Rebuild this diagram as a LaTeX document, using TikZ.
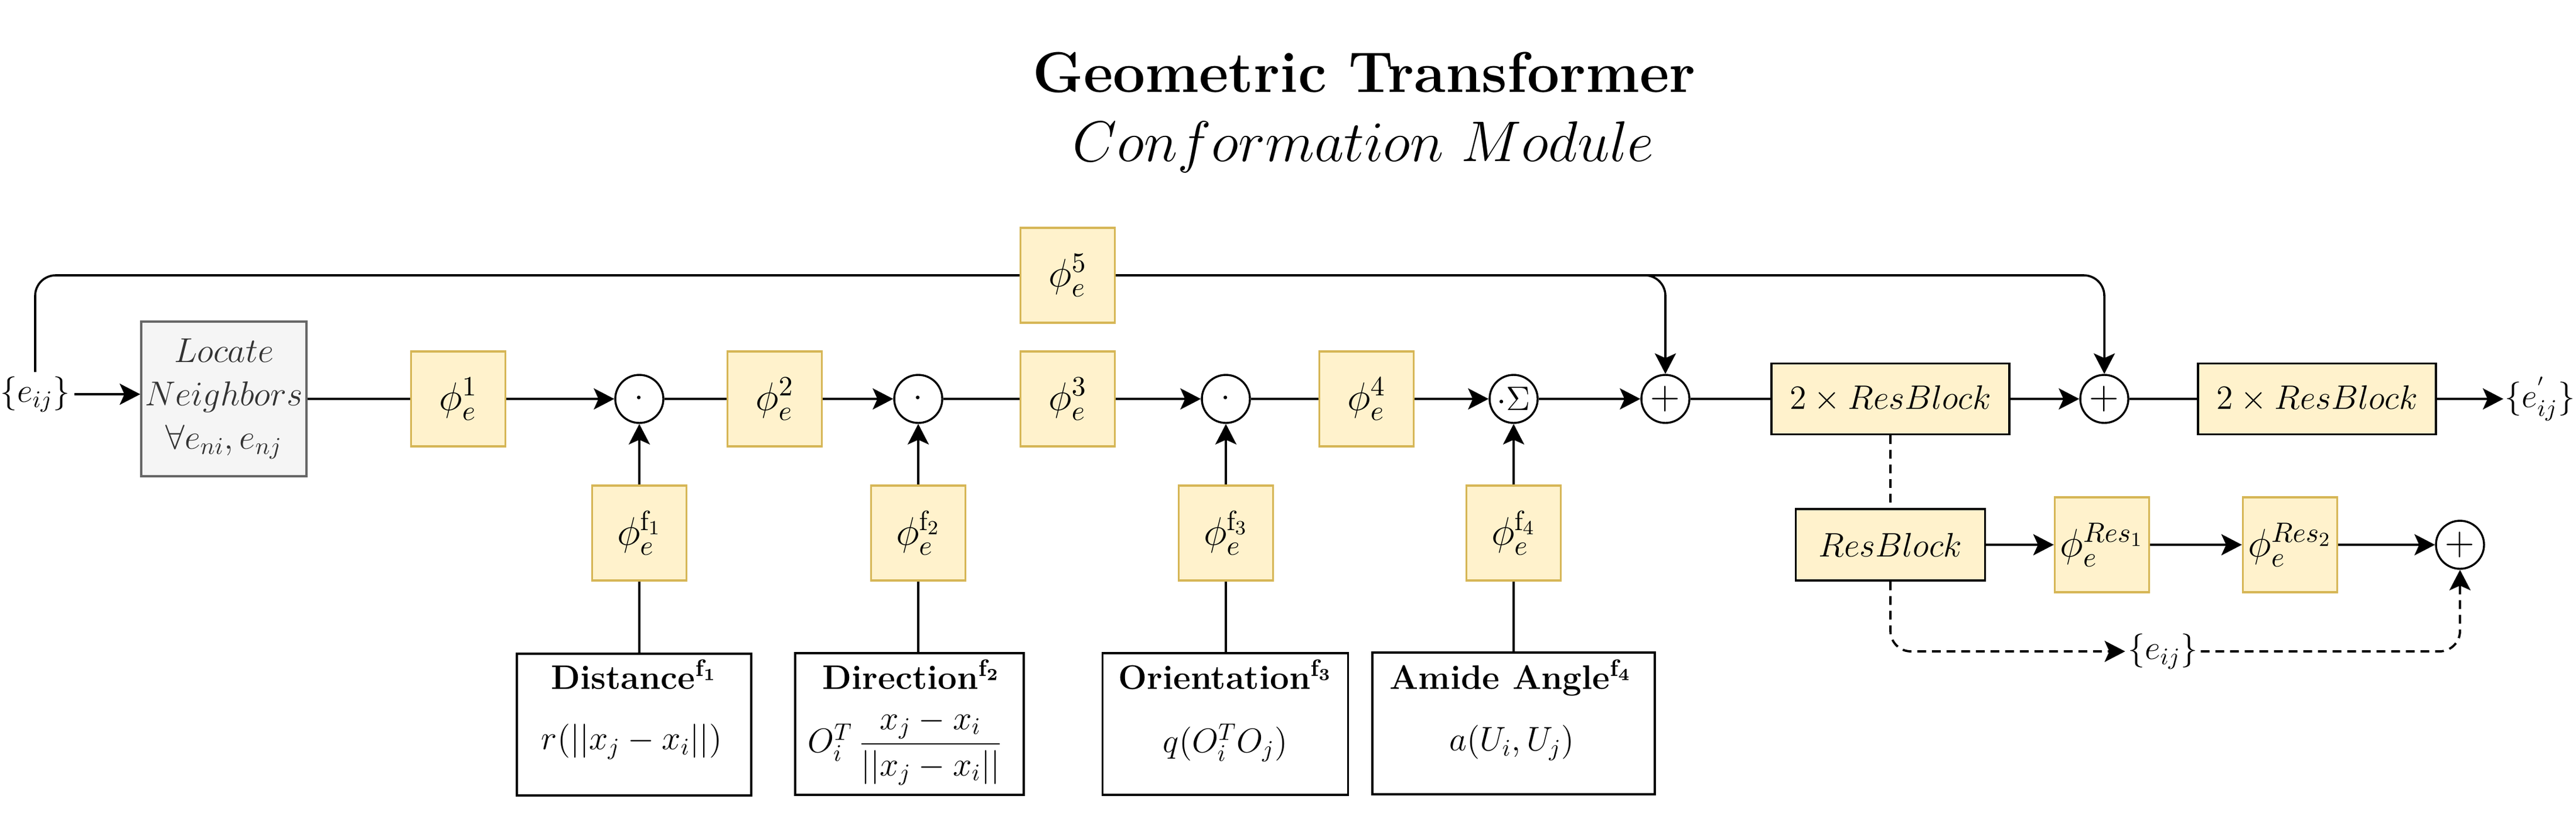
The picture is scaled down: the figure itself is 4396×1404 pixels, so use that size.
\RequirePackage{fix-cm}
\documentclass[tikz,border=0pt]{standalone}
\usepackage{amsmath}
\usetikzlibrary{arrows.meta}
\definecolor{yfill}{HTML}{FFF2CC}
\definecolor{ybord}{HTML}{D6B656}
\definecolor{gfill}{HTML}{F5F5F5}
\definecolor{gbord}{HTML}{666666}
\definecolor{gtext}{HTML}{333333}
\begin{document}
\begin{tikzpicture}[x=0.25pt,y=-0.25pt,
  ybox/.style={draw=ybord, fill=yfill, line width=0.85pt, minimum width=40.25pt, minimum height=40.5pt, inner sep=0pt, font=\fontsize{17}{20}\selectfont},
  rbox/.style={draw=black, fill=yfill, line width=0.85pt, inner sep=0pt, font=\fontsize{14.5}{18}\selectfont},
  fbox/.style={draw=black, fill=white, line width=0.85pt, inner sep=0pt, minimum height=60.5pt},
  op/.style={circle, draw=black, fill=white, line width=0.85pt, minimum size=20.5pt, inner sep=0pt, font=\fontsize{14.5}{18}\selectfont},
  opplus/.style={op, font=\fontsize{17.5}{20}\selectfont},
  txt/.style={inner sep=1.75pt, font=\fontsize{14.5}{18}\selectfont},
  tit/.style={inner sep=0pt, anchor=base, font=\fontsize{24.5}{29}\selectfont},
  ftitle/.style={inner sep=0pt, anchor=base, font=\fontsize{14.5}{18}\selectfont\bfseries},
  fml/.style={inner sep=0pt, font=\fontsize{14.5}{18}\selectfont},
  arr/.style={-{Stealth[length=8.75pt,width=9pt,inset=2pt]}},
  hl/.style={line width=0.95pt},
  vl/.style={line width=0.9pt},
  dsh/.style={dash pattern=on 3.75pt off 2.5pt},
]
\useasboundingbox (0,0) rectangle (4396,1404);

% titles
\node[tit] (t1) at (2328,157) {\bfseries Geometric Transformer};
\node[tit] (t2) at (2327,275) {$Conformation\ Module$};

% main row
\node[txt] (ein) at (60,673) {$\{e_{ij}\}$};
\node[draw=gbord, fill=gfill, line width=0.85pt, minimum width=70.5pt, minimum height=66pt, inner sep=0pt,
      align=center, text=gtext, font=\fontsize{14.75}{18.5}\selectfont] (loc) at (382,681)
      {$Locate$\\$Neighbors$\\$\forall e_{ni},e_{nj}$};
\node[ybox] (p1) at (782,681) {$\phi_e^1$};
\node[op] (c1) at (1091,681) {$\cdot$};
\node[ybox] (p2) at (1322,681) {$\phi_e^2$};
\node[op] (c2) at (1567,681) {$\cdot$};
\node[ybox] (p3) at (1822,681) {$\phi_e^3$};
\node[op] (c3) at (2092,681) {$\cdot$};
\node[ybox] (p4) at (2332,681) {$\phi_e^4$};
\node[op] (c4) at (2583,681) {$\cdot\Sigma$};
\node[opplus] (cp1) at (2842,681) {$+$};
\node[rbox, minimum width=101.5pt, minimum height=30.25pt] (rb1) at (3226,681) {$2\times ResBlock$};
\node[opplus] (cp2) at (3591,681) {$+$};
\node[rbox, minimum width=101.5pt, minimum height=30.25pt] (rb2) at (3954,681) {$2\times ResBlock$};
\node[txt, anchor=west, inner sep=0.5pt] (eout) at (4272,681) {$\{e_{ij}^{'}\}$};

% top skip
\node[ybox] (p5) at (1822,470) {$\phi_e^5$};

% feature branch
\node[ybox] (pf1) at (1091,910) {$\phi_e^{\mathrm{f}_1}$};
\node[ybox] (pf2) at (1567,910) {$\phi_e^{\mathrm{f}_2}$};
\node[ybox] (pf3) at (2092,910) {$\phi_e^{\mathrm{f}_3}$};
\node[ybox] (pf4) at (2583,910) {$\phi_e^{\mathrm{f}_4}$};

\node[fbox, minimum width=100pt] (d1) at (1082,1237) {};
\node[fbox, minimum width=97.5pt] (d2) at (1552,1236) {};
\node[fbox, minimum width=104.75pt] (d3) at (2091,1236) {};
\node[fbox, minimum width=120.5pt] (d4) at (2583,1235) {};

\node[ftitle] (d1t) at (1082,1176) {Distance$^{\mathbf{f_1}}$};
\node[ftitle] (d2t) at (1555,1176) {Direction$^{\mathbf{f_2}}$};
\node[ftitle] (d3t) at (2091,1176) {Orientation$^{\mathbf{f_3}}$};
\node[ftitle] (d4t) at (2578,1176) {Amide Angle$^{\mathbf{f_4}}$};

\node[fml] (d1f) at (1078,1266) {$r(||x_j-x_i||)$};
\node[fml] (d2f) at (1545,1276) {$O_i^T\,\dfrac{x_j-x_i}{||x_j-x_i||}$};
\node[fml] (d3f) at (2091,1268) {$q(O_i^TO_j)$};
\node[fml] (d4f) at (2580,1268) {$a(U_i,U_j)$};

% resblock detail
\node[rbox, minimum width=80.75pt, minimum height=30.5pt] (rb) at (3226,930) {$ResBlock$};
\node[ybox] (r1) at (3587,930) {$\phi_e^{Res_1}$};
\node[ybox] (r2) at (3908,930) {$\phi_e^{Res_2}$};
\node[opplus] (cp3) at (4198,930) {$+$};
\node[txt, inner sep=1pt] (ebot) at (3691,1112) {$\{e_{ij}\}$};

% connectors main row
\draw[hl, arr] (ein.east) -- (ein.east -| loc.west);
\draw[hl] (loc.east) -- (p1.west);
\draw[hl, arr] (p1.east) -- (c1.west);
\draw[hl] (c1.east) -- (p2.west);
\draw[hl, arr] (p2.east) -- (c2.west);
\draw[hl] (c2.east) -- (p3.west);
\draw[hl, arr] (p3.east) -- (c3.west);
\draw[hl] (c3.east) -- (p4.west);
\draw[hl, arr] (p4.east) -- (c4.west);
\draw[hl, arr] (c4.east) -- (cp1.west);
\draw[hl] (cp1.east) -- (rb1.west);
\draw[hl, arr] (rb1.east) -- (cp2.west);
\draw[hl] (cp2.east) -- (rb2.west);
\draw[hl, arr] (rb2.east) -- (eout.west);

% top skip connectors
\draw[vl, rounded corners=8.75pt] (ein.north) |- (p5.west);
\draw[vl, rounded corners=8.75pt, arr] (p5.east) -| (cp1.north);
\draw[vl, rounded corners=8.75pt, arr] (p5.east) -| (cp2.north);

% feature connectors
\foreach \i in {1,2,3,4}{
  \draw[vl] (pf\i.south) -- (pf\i.south |- d\i.north);
  \draw[hl, arr] (pf\i.north) -- (c\i.south);
}

% resblock detail connectors
\draw[hl, arr] (rb.east) -- (r1.west);
\draw[hl, arr] (r1.east) -- (r2.west);
\draw[hl, arr] (r2.east) -- (cp3.west);
\draw[vl, dsh] (rb1.south) -- (rb.north);
\draw[hl, dsh, rounded corners=8.75pt, arr] (rb.south) |- (ebot.west);
\draw[hl, dsh, rounded corners=8.75pt, arr] (ebot.east) -| (cp3.south);
\end{tikzpicture}
\end{document}
